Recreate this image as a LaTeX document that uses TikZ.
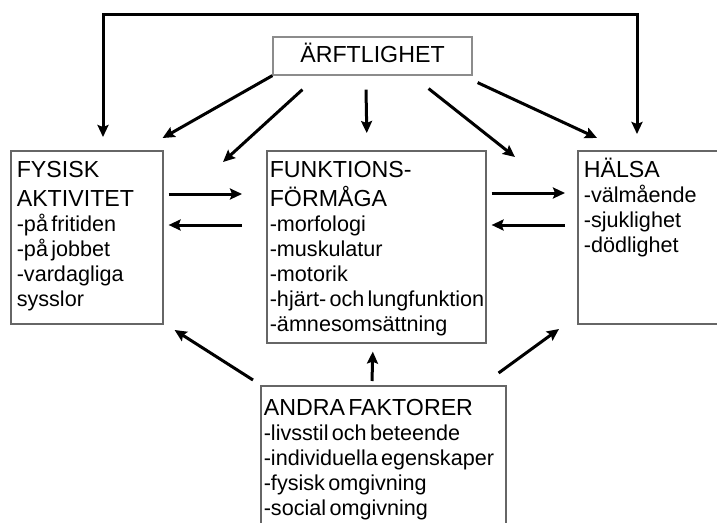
\documentclass[tikz,border=0pt]{standalone}
\usepackage{fontspec}
\setmainfont{Liberation Sans}
\usetikzlibrary{arrows.meta,positioning,calc}
\newcommand{\headfont}{\fontsize{23.2}{29}\selectfont}
\newcommand{\itemfont}{\fontsize{21.6}{25}\selectfont}

\begin{document}
\begin{tikzpicture}[x=1pt,y=-1pt,
  box/.style={draw=black!60,line width=1.6pt,fill=white,anchor=north west,
    align=left,inner xsep=3pt,inner ysep=10pt,text height=17pt},
  arr/.style={-{Stealth[length=12pt,width=11pt,inset=2pt]},line width=3pt},
  biarr/.style={{Stealth[length=12pt,width=11pt,inset=2pt]}-{Stealth[length=12pt,width=11pt,inset=2pt]},
    line width=3pt,line join=miter}]
\useasboundingbox (0,0) rectangle (717,522);
\node[draw=black!45,line width=1.2pt,minimum width=199pt,minimum height=38pt,inner sep=0pt,
  text height=17pt,text depth=5pt,font=\headfont] (arv) at (372.5,56) {ÄRFTLIGHET};
\node[box,text width=140pt,text depth=136pt,inner xsep=6pt] (fys) at (10,150)
  {\headfont FYSISK\\AKTIVITET\par\itemfont -på fritiden\\-på jobbet\\-vardagliga\\sysslor\par};
\node[box,text width=213pt,text depth=155pt] (funk) at (266,150)
  {\headfont FUNKTIONS-\\FÖRMÅGA\par\itemfont -morfologi\\-muskulatur\\-motorik\\
   \mbox{-hjärt- och lungfunktion}\\-ämnesomsättning\par};
\node[box,text width=140pt,text depth=136pt,inner xsep=6pt] (hal) at (577,150)
  {\headfont HÄLSA\par\itemfont -välmående\\-sjuklighet\\-dödlighet\par};
\node[box,text width=239pt,text depth=107pt,inner ysep=13pt] (andra) at (260,385)
  {\headfont ANDRA FAKTORER\par\itemfont -livsstil och beteende\\-individuella egenskaper\\
   -fysisk omgivning\\-social omgivning\par};
\coordinate (loopA) at ($(fys.north west)+(93,-13)$);
\coordinate (loopB) at ($(hal.north west)+(60,-16)$);
\coordinate (loopTop) at (370,14);
\draw[biarr] (loopA) |- (loopTop) -| (loopB);
\draw[arr] (arv.south west) -- ($(fys.north east)+(-1,-12)$);
\draw[arr] ($(arv.south west)+(30,14)$) -- ($(funk.north west)+(-43,12)$);
\draw[arr] ($(arv.south)+(-6.5,14)$) -- ($(funk.north)+(-9.5,-17)$);
\draw[arr] ($(arv.south east)+(-44,13)$) -- ($(hal.north west)+(-62,7)$);
\draw[arr] ($(arv.south east)+(5,7)$) -- ($(hal.north west)+(20,-12)$);
\draw[arr] ($(fys.north east)+(5,44)$) -- ($(funk.north west)+(-24,44)$);
\draw[arr] ($(funk.north west)+(-24,75)$) -- ($(fys.north east)+(5,75)$);
\draw[arr] ($(funk.north east)+(5,43)$) -- ($(hal.north west)+(-12,43)$);
\draw[arr] ($(hal.north west)+(-12,75)$) -- ($(funk.north east)+(5,75)$);
\draw[arr] ($(andra.north west)+(-7,-5)$) -- ($(fys.north east)+(11,180)$);
\draw[arr] ($(andra.north west)+(112,-4)$) -- ($(funk.south)+(-3.5,8)$);
\draw[arr] ($(andra.north east)+(-8,-12)$) -- ($(hal.north west)+(-18,179)$);
\end{tikzpicture}
\end{document}
